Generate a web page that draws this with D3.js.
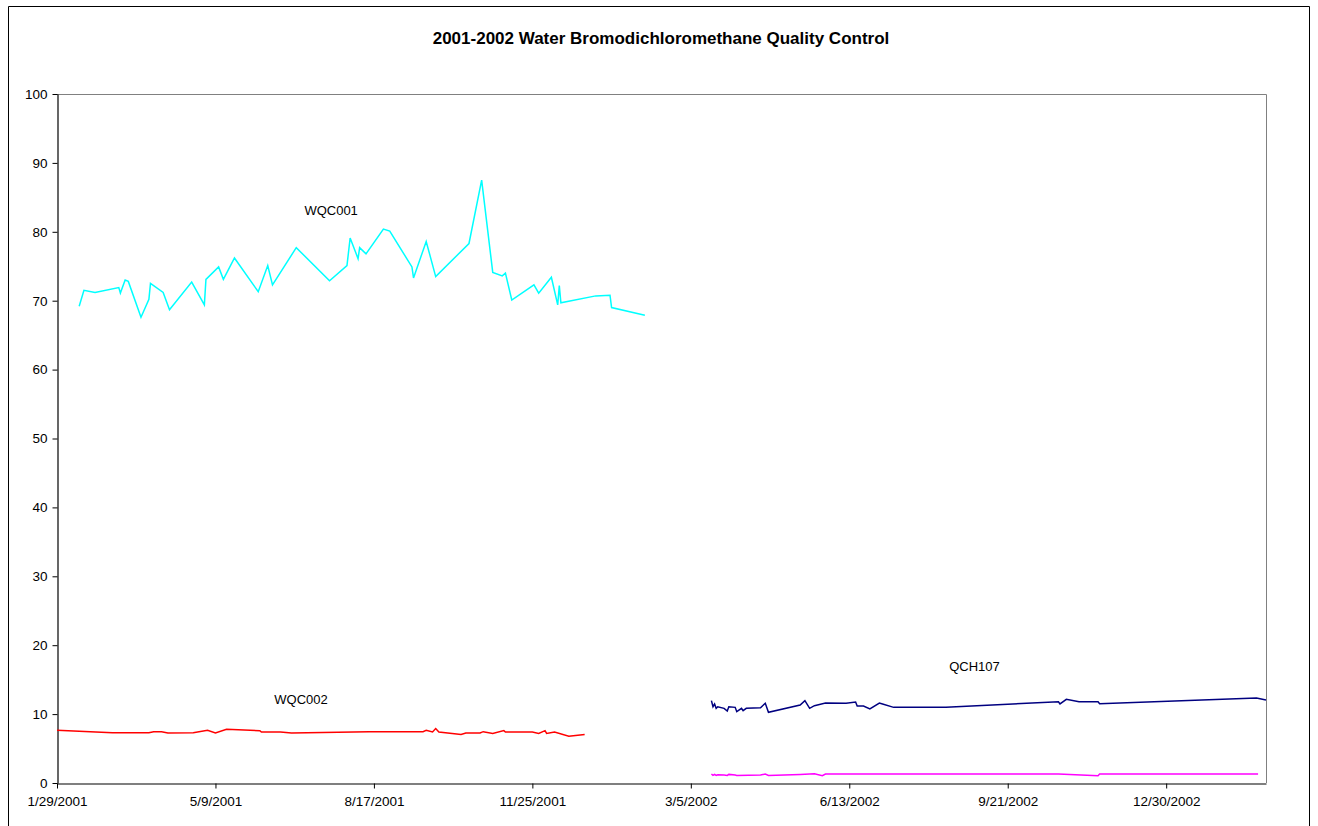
<!DOCTYPE html>
<html>
<head>
<meta charset="utf-8">
<script src="https://cdn.jsdelivr.net/npm/d3@7"></script>
<style>
  html, body { margin: 0; padding: 0; background: #fff; }
  svg { display: block; font-family: Arial, "Liberation Sans", sans-serif; }
</style>
</head>
<body>
<svg id="chart" width="1318" height="826"></svg>
<script>
const title = "2001-2002 Water Bromodichloromethane Quality Control";
const xTickLabels = ["1/29/2001","5/9/2001","8/17/2001","11/25/2001","3/5/2002","6/13/2002","9/21/2002","12/30/2002"];
const yTickValues = [0,10,20,30,40,50,60,70,80,90,100];
const xDomain = ["1/29/2001","3/3/2003"];

const wqc001Dates = ["2/12/2001","2/15/2001","2/22/2001","3/9/2001","3/10/2001","3/13/2001","3/15/2001","3/23/2001","3/28/2001","3/29/2001","4/6/2001","4/10/2001","4/24/2001","5/2/2001","5/3/2001","5/11/2001","5/14/2001","5/21/2001","6/5/2001","6/11/2001","6/14/2001","6/29/2001","7/20/2001","7/31/2001","8/2/2001","8/7/2001","8/8/2001","8/12/2001","8/23/2001","8/27/2001","9/10/2001","9/11/2001","9/19/2001","9/25/2001","10/16/2001","10/24/2001","10/31/2001","11/6/2001","11/8/2001","11/12/2001","11/26/2001","11/29/2001","12/7/2001","12/11/2001","12/12/2001","12/13/2001","1/4/2002","1/13/2002","1/14/2002","2/4/2002"];
const wqc001Values = [69.2,71.5,71.2,71.9,71.1,73.0,72.8,67.6,70.2,72.5,71.2,68.7,72.7,69.4,73.1,74.9,73.1,76.2,71.3,75.1,72.3,77.7,72.9,75.1,79.1,76.1,77.7,76.8,80.4,80.1,74.9,73.3,78.6,73.5,78.3,87.5,74.1,73.6,74.0,70.1,72.3,71.1,73.4,69.4,72.2,69.7,70.7,70.8,69.0,67.9];

const wqc002Dates = ["1/29/2001","3/5/2001","3/28/2001","3/31/2001","4/5/2001","4/9/2001","4/25/2001","5/4/2001","5/9/2001","5/16/2001","6/6/2001","6/7/2001","6/19/2001","6/26/2001","8/14/2001","9/17/2001","9/19/2001","9/23/2001","9/25/2001","9/27/2001","10/11/2001","10/14/2001","10/23/2001","10/25/2001","10/31/2001","11/7/2001","11/8/2001","11/25/2001","11/29/2001","12/3/2001","12/4/2001","12/9/2001","12/18/2001","12/28/2001"];
const wqc002Values = [7.65,7.3,7.3,7.45,7.45,7.25,7.3,7.65,7.25,7.8,7.6,7.4,7.4,7.25,7.45,7.45,7.65,7.4,7.9,7.4,7.05,7.25,7.25,7.45,7.2,7.6,7.4,7.4,7.2,7.6,7.2,7.4,6.8,7.05];

const qch107Dates = ["3/18/2002","3/19/2002","3/20/2002","3/21/2002","3/22/2002","3/26/2002","3/28/2002","3/29/2002","4/2/2002","4/3/2002","4/6/2002","4/7/2002","4/9/2002","4/18/2002","4/21/2002","4/23/2002","5/13/2002","5/16/2002","5/19/2002","5/22/2002","5/29/2002","6/11/2002","6/17/2002","6/18/2002","6/22/2002","6/26/2002","7/2/2002","7/4/2002","7/11/2002","7/23/2002","8/13/2002","10/23/2002","10/24/2002","10/28/2002","11/5/2002","11/17/2002","11/18/2002","2/25/2003","3/3/2003"];
const qch107Values = [11.95,11.07,11.47,10.84,11.07,10.84,10.45,11.07,10.98,10.35,10.84,10.5,10.84,10.93,11.57,10.26,11.32,11.95,10.84,11.22,11.61,11.57,11.76,11.18,11.18,10.74,11.61,11.47,10.98,10.98,10.98,11.8,11.47,12.15,11.8,11.8,11.5,12.34,12.05];

const qch107bDates = ["3/18/2002","3/19/2002","3/20/2002","3/21/2002","3/22/2002","3/26/2002","3/28/2002","3/29/2002","4/2/2002","4/3/2002","4/18/2002","4/21/2002","4/23/2002","5/13/2002","5/22/2002","5/27/2002","5/29/2002","10/23/2002","11/17/2002","11/18/2002","2/26/2003"];
const qch107bValues = [1.3,1.1,1.25,1.1,1.2,1.15,1.1,1.25,1.15,1.1,1.15,1.3,1.1,1.25,1.35,1.05,1.3,1.3,1.05,1.3,1.3];

const annotationTexts = ["WQC001","WQC002","QCH107"];
const annotationDates = ["7/21/2001","7/2/2001","8/31/2002"];
const annotationValues = [83.0,12.0,16.8];

const parse = d3.timeParse("%m/%d/%Y");
const svg = d3.select("#chart");

const margin = {left: 57, right: 1266, top: 94, bottom: 783};
const x = d3.scaleTime().domain(xDomain.map(parse)).range([margin.left, margin.right]);
const y = d3.scaleLinear().domain([0, 100]).range([margin.bottom, margin.top]);

// outer chart border
svg.append("path")
  .attr("d", "M8.5,830 V6.5 H1309.5 V830")
  .attr("fill", "none").attr("stroke", "#000").attr("stroke-width", 1);

// plot area border (top/right gray)
svg.append("path")
  .attr("d", `M${margin.left},${margin.top + 0.5} H${margin.right + 0.5} V${margin.bottom}`)
  .attr("fill", "none").attr("stroke", "#808080").attr("stroke-width", 1);

// title
svg.append("text")
  .attr("x", 661).attr("y", 44)
  .attr("text-anchor", "middle")
  .attr("font-size", "17px").attr("font-weight", "bold")
  .text(title);

// axes
const xAxis = d3.axisBottom(x)
  .tickValues(xTickLabels.map(parse))
  .tickFormat((d, i) => xTickLabels[i])
  .tickSize(5).tickSizeOuter(0).tickPadding(8);
const gx = svg.append("g").attr("transform", `translate(0,${margin.bottom + 0.5})`).call(xAxis);
gx.selectAll("text").attr("font-size", "13.5px").attr("fill", "#000").attr("font-family", "Arial, 'Liberation Sans', sans-serif");
gx.select(".domain").attr("stroke", "#000").attr("stroke-width", 1.2);
gx.selectAll(".tick line").attr("stroke", "#000");

const yAxis = d3.axisLeft(y)
  .tickValues(yTickValues)
  .tickFormat(d3.format("d"))
  .tickSize(5).tickSizeOuter(0).tickPadding(5);
const gy = svg.append("g").attr("transform", `translate(${margin.left + 0.5},0)`).call(yAxis);
gy.selectAll("text").attr("font-size", "13.5px").attr("fill", "#000").attr("font-family", "Arial, 'Liberation Sans', sans-serif");
gy.select(".domain").attr("stroke", "#000").attr("stroke-width", 1.2);
gy.selectAll(".tick line").attr("stroke", "#000");

// series
const series = [
  {dates: wqc001Dates, values: wqc001Values, color: "#00FFFF"},
  {dates: wqc002Dates, values: wqc002Values, color: "#FF0000"},
  {dates: qch107Dates, values: qch107Values, color: "#000080"},
  {dates: qch107bDates, values: qch107bValues, color: "#FF00FF"}
];
const line = d3.line().x(d => x(d[0])).y(d => y(d[1]));
series.forEach(s => {
  const pts = s.dates.map((d, i) => [parse(d), s.values[i]]);
  svg.append("path")
    .datum(pts)
    .attr("d", line)
    .attr("fill", "none")
    .attr("stroke", s.color)
    .attr("stroke-width", 1.5)
    .attr("stroke-linejoin", "miter");
});

// annotations
annotationTexts.forEach((t, i) => {
  svg.append("text")
    .attr("x", x(parse(annotationDates[i])))
    .attr("y", y(annotationValues[i]))
    .attr("text-anchor", "middle")
    .attr("dominant-baseline", "middle")
    .attr("font-size", "13px")
    .text(t);
});
</script>
</body>
</html>
